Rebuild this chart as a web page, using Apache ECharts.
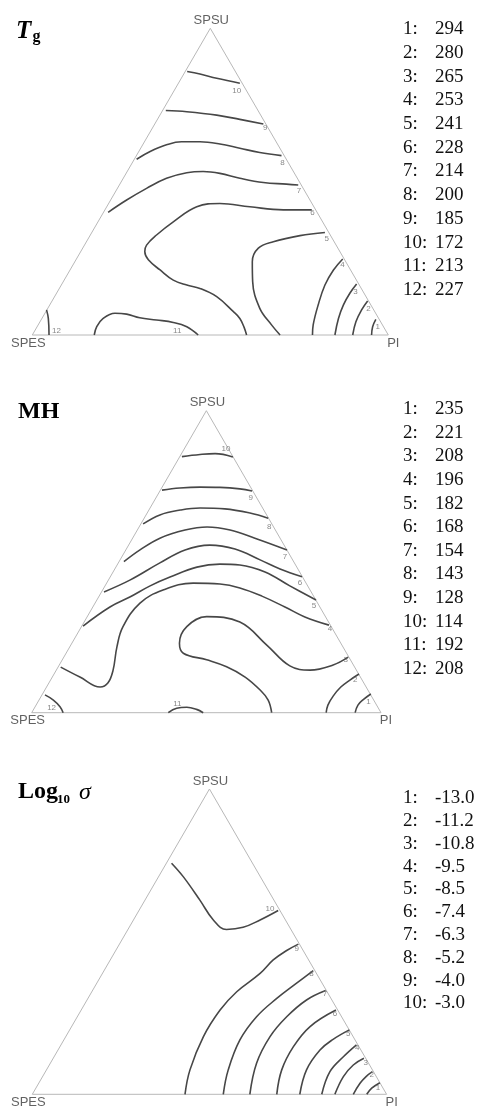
<!DOCTYPE html>
<html><head><meta charset="utf-8">
<script src="https://cdn.jsdelivr.net/npm/echarts@6/dist/echarts.min.js"></script>
<style>html,body{margin:0;padding:0;background:#fff}#c{width:479px;height:1109px}</style>
</head><body><div id="c"></div>
<script>
// Ternary plot coordinates: [x % of base (SPES=0 .. PI=100), y % of height (base=0 .. SPSU=100)]
const frame = [[0,0],[100,0],[50,100],[0,0]];
const vertexNames = ['SPES','PI','SPSU'];

// ---- Tg contours ----
const tg1 = [[96.5,5.1],[95.6,2.7],[95.3,0]];
const tg2 = [[94.2,11.1],[92.5,8.2],[90.9,4.3],[90.0,0]];
const tg3 = [[91.1,16.6],[89.2,13.6],[87.4,9.8],[86.0,5.4],[85.0,0]];
const tg4 = [[87.2,24.8],[84.6,21.2],[82.2,16.3],[80.3,9.8],[78.9,3.3],[78.7,0]];
const tg5 = [[82.2,33.4],[75.2,32.4],[67.7,30.4],[63.5,28.3],[61.8,23.9],[61.9,17.4],[63.9,8.7],[67.2,3.3],[69.6,0]];
const tg6 = [[78.5,40.8],[70.5,40.8],[61.1,41.8],[52.7,42.9],[46.2,41.8],[39.6,36.9],[34.9,32.6],[32.1,29.3],[31.6,27.2],[32.6,24.5],[35.9,21.2],[39.6,17.9],[43.4,16.3],[47.1,15.2],[51.8,12.5],[56.5,7.6],[58.3,5.4],[59.5,2.5],[60.2,0]];
const tg7 = [[21.3,40.0],[26.5,44.0],[32.1,47.8],[37.7,51.1],[43.4,52.9],[48.0,53.3],[52.7,52.7],[58.3,51.1],[64.9,49.7],[71.4,49.2],[74.7,48.9]];
const tg8 = [[29.3,57.3],[33.1,59.8],[37.7,62.0],[41.9,63.0],[47.1,63.0],[52.7,62.3],[58.3,60.9],[63.9,59.5],[70.0,58.5]];
const tg9 = [[37.5,73.2],[43.4,72.8],[51.8,71.7],[58.3,70.3],[64.9,68.8]];
const tg10 = [[43.5,85.9],[47.1,85.1],[51.8,83.7],[58.3,82.1]];
const tg11 = [[17.4,0],[18.1,2.7],[19.9,5.4],[23.2,7.1],[26.5,6.8],[30.2,5.6],[34.9,4.9],[39.6,4.1],[43.4,2.7],[46.6,0]];
const tg12 = [[4.0,8.2],[4.5,5.4],[4.7,0]];
const tgLabels = [[97.0,2.7,'1'],[94.4,8.4,'2'],[90.8,14.0,'3'],[87.1,22.8,'4'],[82.7,31.5,'5'],[78.7,39.7,'6'],[74.9,47.1,'7'],[70.3,56.0,'8'],[65.4,67.4,'9'],[57.4,79.7,'10'],[40.7,1.4,'11'],[6.8,1.4,'12']];
const tgValues = ['294','280','265','253','241','228','214','200','185','172','213','227'];

// ---- MH contours ----
const mh1 = [[97.1,6.2],[95.1,4.5],[93.4,2.5],[92.6,0]];
const mh2 = [[93.7,12.8],[91.1,10.8],[88.5,8.5],[86.3,5.5],[84.8,2.5],[84.3,0]];
const mh3 = [[90.6,18.4],[86.3,15.8],[79.7,14.1],[73.9,15.5],[67.3,22.4],[59.6,30.0],[50.1,31.8],[44.4,28.5],[42.3,23.0],[43.4,19.7],[50.1,17.5],[55.8,15.2],[61.1,11.8],[65.4,7.5],[67.7,4.2],[68.7,0]];
const mh4 = [[8.3,15.1],[13.8,11.8],[19.6,8.5],[21.8,9.8],[23.3,14.1],[24.4,21.8],[26.1,28.4],[31.0,36.3],[37.6,40.6],[46.2,42.9],[53.9,42.6],[59.6,41.3],[65.9,38.6],[72.5,35.0],[78.2,31.7],[85.1,29.0]];
const mh5 = [[14.7,28.7],[22.4,35.0],[28.1,38.3],[33.9,42.0],[39.6,44.9],[47.3,48.2],[53.9,49.2],[59.6,48.9],[66.8,46.6],[73.9,42.0],[81.4,37.3]];
const mh6 = [[20.7,40.0],[28.1,43.9],[36.7,49.6],[43.9,53.9],[51.0,55.5],[58.2,54.2],[65.4,50.6],[71.1,47.6],[77.4,45.0]];
const mh7 = [[26.4,50.0],[31.0,53.9],[36.7,57.8],[43.9,60.5],[50.2,61.5],[56.8,60.5],[63.9,57.8],[73.1,53.9]];
const mh8 = [[31.9,62.5],[36.7,65.5],[42.5,67.1],[48.2,67.8],[55.3,67.5],[62.5,66.1],[67.7,64.4]];
const mh9 = [[37.3,73.7],[42.4,74.4],[48.2,74.7],[53.9,74.6],[59.6,74.1],[63.1,73.4]];
const mh10 = [[43.0,84.8],[48.2,85.5],[52.5,85.8],[57.6,84.7]];
const mh11 = [[39.1,0],[41.5,1.5],[44.4,1.8],[47.2,1.1],[49.1,0]];
const mh12 = [[3.8,5.9],[6.2,4.2],[8.1,2.0],[9.0,0]];
const mhLabels = [[96.4,3.6,'1'],[92.6,10.8,'2'],[89.9,17.5,'3'],[85.4,27.9,'4'],[80.8,35.3,'5'],[76.8,43.0,'6'],[72.5,51.7,'7'],[68.0,61.6,'8'],[62.7,71.3,'9'],[55.6,87.3,'10'],[41.7,3.1,'11'],[5.7,1.5,'12']];
const mhValues = ['235','221','208','196','182','168','154','143','128','114','192','208'];

// ---- Log10 sigma contours ----
const sg1 = [[98.1,3.8],[95.8,2.0],[94.4,0]];
const sg2 = [[96.0,7.4],[94.2,5.8],[92.5,3.6],[90.6,0]];
const sg3 = [[93.6,11.8],[90.6,9.6],[87.8,5.8],[85.4,0]];
const sg4 = [[91.5,16.2],[87.8,12.3],[84.0,7.4],[81.7,0]];
const sg5 = [[89.5,21.1],[84.9,18.0],[81.2,14.5],[77.4,8.0],[75.5,0]];
const sg6 = [[85.7,27.6],[78.4,22.2],[73.7,15.6],[70.4,8.0],[69.0,0]];
const sg7 = [[82.8,34.0],[77.4,30.9],[71.8,25.4],[67.1,18.9],[63.3,10.2],[61.4,0]];
const sg8 = [[79.3,40.5],[74.6,36.4],[69.0,31.4],[63.3,25.4],[58.6,17.8],[55.3,8.0],[53.9,0]];
const sg9 = [[75.1,49.2],[71.8,47.1],[68.0,44.0],[64.3,39.6],[57.7,33.6],[53.0,27.6],[48.3,18.9],[44.5,8.0],[43.1,0]];
const sg10 = [[39.3,75.7],[42.6,71.3],[47.3,63.6],[51.1,57.1],[54.8,54.0],[59.5,54.7],[64.3,57.1],[69.4,60.2]];
const sgLabels = [[97.6,2.0,'1'],[95.8,6.3,'2'],[94.1,10.4,'3'],[91.7,15.1,'4'],[89.2,19.8,'5'],[85.4,26.3,'6'],[82.6,32.9,'7'],[78.8,39.4,'8'],[74.6,47.5,'9'],[67.1,60.9,'10']];
const sgValues = ['-13.0','-11.2','-10.8','-9.5','-8.5','-7.4','-6.3','-5.2','-4.0','-3.0'];

const panels = [
  {grid:{left:32.3, top:28.3, width:356, height:306.7}, lines:[tg1,tg2,tg3,tg4,tg5,tg6,tg7,tg8,tg9,tg10,tg11,tg12], labels:tgLabels, values:tgValues, ly0:29.3, lstep:23.7},
  {grid:{left:31.7, top:410.7, width:349.3, height:302}, lines:[mh1,mh2,mh3,mh4,mh5,mh6,mh7,mh8,mh9,mh10,mh11,mh12], labels:mhLabels, values:mhValues, ly0:409.3, lstep:23.6},
  {grid:{left:32.3, top:789, width:354.3, height:305.3}, lines:[sg1,sg2,sg3,sg4,sg5,sg6,sg7,sg8,sg9,sg10], labels:sgLabels, values:sgValues, ly0:798.3, lstep:22.8}
];

const grid=[], xAxis=[], yAxis=[], series=[], graphic=[];
const serif = '"Liberation Serif","Times New Roman",serif';
const sans = '"Liberation Sans",Arial,sans-serif';

panels.forEach((p,i)=>{
  grid.push(Object.assign({containLabel:false}, p.grid));
  xAxis.push({type:'value', gridIndex:i, min:0, max:100, show:false});
  yAxis.push({type:'value', gridIndex:i, min:0, max:100, show:false});
  series.push({type:'line', xAxisIndex:i, yAxisIndex:i, data:frame, symbol:'none', silent:true, clip:false, z:1,
    lineStyle:{color:'#b8b8b8', width:1}});
  p.lines.forEach(d=>series.push({type:'line', xAxisIndex:i, yAxisIndex:i, data:d, smooth:0.4, symbol:'none',
    silent:true, clip:false, z:2, lineStyle:{color:'#474747', width:1.6}}));
  series.push({type:'scatter', xAxisIndex:i, yAxisIndex:i, data:p.labels, symbolSize:1, silent:true, z:3,
    itemStyle:{color:'rgba(0,0,0,0)'},
    label:{show:true, position:'inside', formatter:q=>q.value[2], fontSize:8, color:'#6a6a6a', fontFamily:sans}});
  series.push({type:'scatter', xAxisIndex:i, yAxisIndex:i, symbolSize:1, silent:true, z:3,
    itemStyle:{color:'rgba(0,0,0,0)'},
    label:{show:true, formatter:'{b}', fontSize:13, color:'#3a3a3a', fontFamily:sans, distance:1},
    data:[
      {name:vertexNames[0], value:frame[0], label:{position:'bottom', offset:[-4,0]}},
      {name:vertexNames[1], value:frame[1], label:{position:'bottom', offset:[5,0]}},
      {name:vertexNames[2], value:frame[2], label:{position:'top', offset:[1,0]}}
    ]});
  p.values.forEach((v,k)=>{
    const y = p.ly0 + k*p.lstep;
    graphic.push({type:'text', x:403, y:y, style:{text:(k+1)+':', font:'19px '+serif, fill:'#111', align:'left', verticalAlign:'middle', textAlign:'left', textVerticalAlign:'middle'}});
    graphic.push({type:'text', x:435, y:y, style:{text:v, font:'19px '+serif, fill:'#111', align:'left', verticalAlign:'middle', textAlign:'left', textVerticalAlign:'middle'}});
  });
});

function t(x,y,text,font){ return {type:'text', x:x, y:y, style:{text:text, font:font, fill:'#000', align:'left', verticalAlign:'middle', textAlign:'left', textVerticalAlign:'middle'}}; }
graphic.push(t(16,31.7,'T','italic bold 25px '+serif));
graphic.push(t(32.5,37,'g','bold 16px '+serif));
graphic.push(t(18,411.5,'MH','bold 24px '+serif));
graphic.push(t(18,791.9,'Log','bold 24px '+serif));
graphic.push(t(57,799.6,'10','bold 13px '+serif));
graphic.push(t(79,792.9,'σ','italic 24px '+serif));

const chart = echarts.init(document.getElementById('c'), null, {renderer:'canvas'});
chart.setOption({animation:false, backgroundColor:'#fff', grid, xAxis, yAxis, series, graphic});
</script></body></html>
